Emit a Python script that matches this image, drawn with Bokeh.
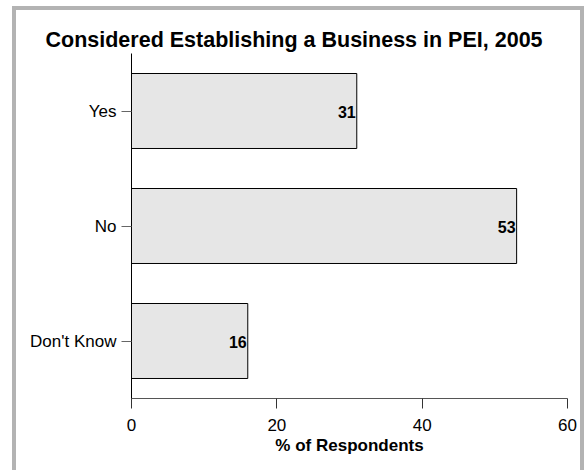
from bokeh.plotting import figure
from bokeh.models import FactorRange, Range1d, FixedTicker, ColumnDataSource, Title
from bokeh.core.properties import value
from bokeh.embed import file_html
from bokeh.resources import INLINE

categories = ["Don't Know", "No", "Yes"]
percents = [16, 53, 31]
x_ticks = [0, 20, 40, 60]

FONT = "Liberation Sans"

src = ColumnDataSource(dict(cat=categories, pct=percents, lbl=[str(v) for v in percents]))

p = figure(
    width=564, height=460,
    y_range=FactorRange(*categories, range_padding=0),
    x_range=Range1d(0, 60),
    output_backend="svg", toolbar_location=None,
    min_border_left=115, min_border_right=21, min_border_top=43, min_border_bottom=76,
)
p.styles = {
    "box-sizing": "content-box",
    "border-top": "4px solid #b3b3b3",
    "border-left": "4px solid #b3b3b3",
    "border-right": "4px solid #b3b3b3",
    "margin-left": "12px",
    "margin-top": "6px",
}

t = Title(text="Considered Establishing a Business in PEI, 2005", align="left", offset=-86,
          text_font=FONT, text_font_size="21.5px", text_font_style="bold", text_color="black",
          standoff=3)
p.add_layout(t, "above")

p.hbar(y="cat", right="pct", left=0, height=0.652, source=src,
       fill_color="#e6e6e6", line_color="black", line_width=1)
p.text(x="pct", y="cat", text="lbl", source=src, x_offset=-1, y_offset=1,
       text_align="right", text_baseline="middle",
       text_font=value(FONT), text_font_size="16px", text_font_style="bold", text_color="black")

p.xgrid.visible = False
p.ygrid.visible = False
p.outline_line_color = None
p.background_fill_color = "white"
p.border_fill_color = "white"

xa = p.xaxis[0]
xa.ticker = FixedTicker(ticks=x_ticks)
xa.axis_label = "% of Respondents"
xa.axis_label_text_font = FONT
xa.axis_label_text_font_size = "17px"
xa.axis_label_text_font_style = "bold"
xa.axis_label_text_color = "black"
xa.axis_label_standoff = 2
xa.major_label_text_font = FONT
xa.major_label_text_font_size = "17px"
xa.major_label_text_color = "black"
xa.major_label_standoff = 10
xa.major_tick_in = 0
xa.major_tick_out = 10
xa.minor_tick_out = 0
xa.minor_tick_in = 0
xa.axis_line_color = "#555555"
xa.major_tick_line_color = "#333333"

ya = p.yaxis[0]
ya.major_label_text_font = FONT
ya.major_label_text_font_size = "17px"
ya.major_label_text_color = "black"
ya.major_label_standoff = 5
ya.major_tick_in = 0
ya.major_tick_out = 10
ya.axis_line_color = "black"
ya.major_tick_line_color = "#666666"

open("out.html", "w").write(file_html(p, INLINE))
